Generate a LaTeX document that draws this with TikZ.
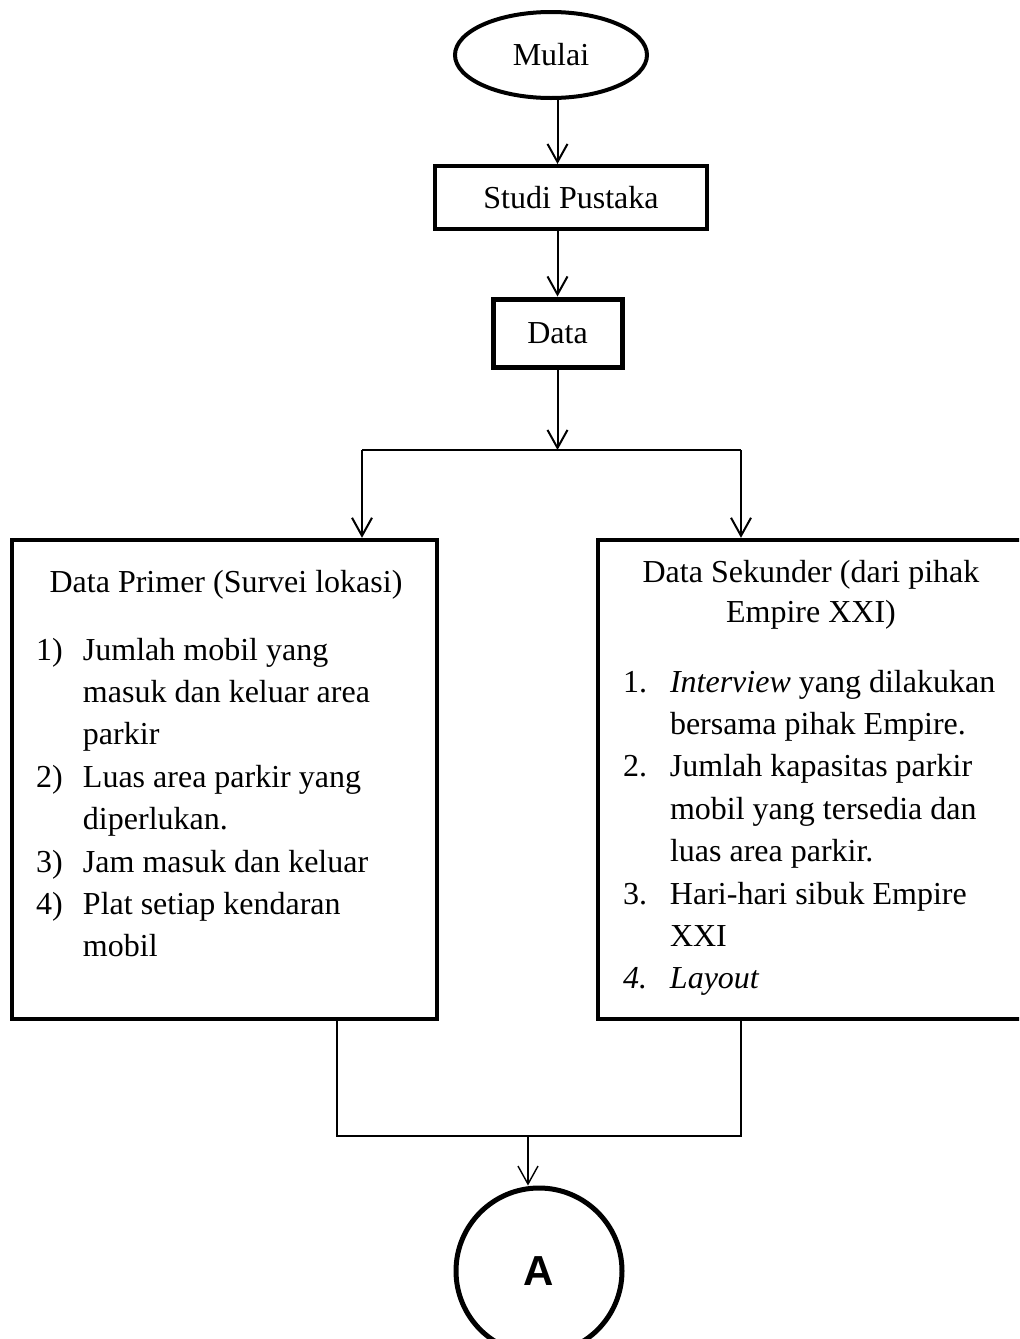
\documentclass[tikz,border=0pt]{standalone}
\usepackage{fontspec}
\setmainfont{Liberation Serif}
\newfontfamily\arialfont{Liberation Sans}
\usetikzlibrary{arrows.meta,shapes.geometric}
\newcommand{\listnum}[1]{\makebox[23.5pt][l]{#1}}
\tikzset{every picture/.style={line width=1pt}}
\tikzset{
	flowbox/.style={draw, rectangle, line width=2pt, inner sep=0pt},
	startend/.style={draw, ellipse, line width=2pt, minimum width=96pt, minimum height=43pt, inner sep=0pt},
	connector/.style={draw, circle, line width=2.5pt, minimum size=83pt, inner sep=0pt, font=\arialfont\bfseries\fontsize{21}{25}\selectfont},
	flowarrow/.style={-{Straight Barb[length=9pt,width=10pt]}, line width=1pt},
	thinline/.style={line width=0.7pt}}

\begin{document}
\begin{tikzpicture}[x=0.5pt,y=0.5pt,yscale=-1,font=\fontsize{16}{21.2}\selectfont]
	\useasboundingbox (0,0) rectangle (1019,1339);
	\clip (0,0) rectangle (1019,1339);

	%Shapes
	\node[startend] (mulai) at (551,55) {Mulai};
	\node[flowbox, minimum width=136pt, minimum height=31.5pt] (studi) at (571,197.5) {Studi Pustaka};
	\node[flowbox, line width=2.5pt, minimum width=64.5pt, minimum height=34pt] (data) at (557.5,333) {Data};
	\node[flowbox, line width=2.2pt, minimum width=212.5pt, minimum height=239.5pt] (primer) at (224.5,779.5) {};
	\node[flowbox, line width=2.2pt, minimum width=213pt, minimum height=239.5pt] (sekunder) at (811,779.5) {};
	\node[connector] (a) at (539,1271) {A};

	% Text Node
	\node[anchor=base] (primertitle) at (226,592) {Data Primer (Survei lokasi)};
	% Text Node
	\node[anchor=base west, inner sep=0pt] (primerlist) at (35,660) {\begin{tabular}[t]{@{}l@{}l@{}}
		\listnum{1)} & Jumlah mobil yang\\
		& masuk dan keluar area\\
		& parkir\\
		\listnum{2)} & Luas area parkir yang\\
		& diperlukan.\\
		\listnum{3)} & Jam masuk dan keluar\\
		\listnum{4)} & Plat setiap kendaran\\
		& mobil
	\end{tabular}};
	% Text Node
	\node[anchor=base] (sekundertitle) at (811,582) {\begin{tabular}[t]{@{}c@{}}Data Sekunder (dari pihak\\[-1pt] Empire XXI)\end{tabular}};
	% Text Node
	\node[anchor=base west, inner sep=0pt] (sekunderlist) at (622,692) {\begin{tabular}[t]{@{}l@{}l@{}}
		\listnum{1.} & \textit{Interview} yang dilakukan\\
		& bersama pihak Empire.\\
		\listnum{2.} & Jumlah kapasitas parkir\\
		& mobil yang tersedia dan\\
		& luas area parkir.\\
		\listnum{3.} & Hari-hari sibuk Empire\\
		& XXI\\
		\listnum{\textit{4.}} & \textit{Layout}
	\end{tabular}};

	%Straight Lines
	\draw[flowarrow] (mulai.south -| data) -- (studi.north -| data);
	\draw[flowarrow] (studi.south -| data) -- (data.north);
	\coordinate (split) at (557.5,450);
	\coordinate (splitleft) at (362,450);
	\coordinate (splitright) at (741,450);
	\draw[flowarrow] (data.south) -- (split);
	\draw (splitleft) -- (splitright);
	\draw[flowarrow] (splitleft) -- (splitleft |- primer.north);
	\draw[flowarrow] (splitright) -- (splitright |- sekunder.north);

	%Straight Lines
	\coordinate (joinleft) at (337,1136);
	\coordinate (joinright) at (741,1136);
	\coordinate (join) at (528,1136);
	\draw[thinline] (joinleft |- primer.south) -- (joinleft) -- (joinright) -- (joinright |- sekunder.south);
	\draw[flowarrow, thinline] (join) -- (join |- a.north);
\end{tikzpicture}
\end{document}
